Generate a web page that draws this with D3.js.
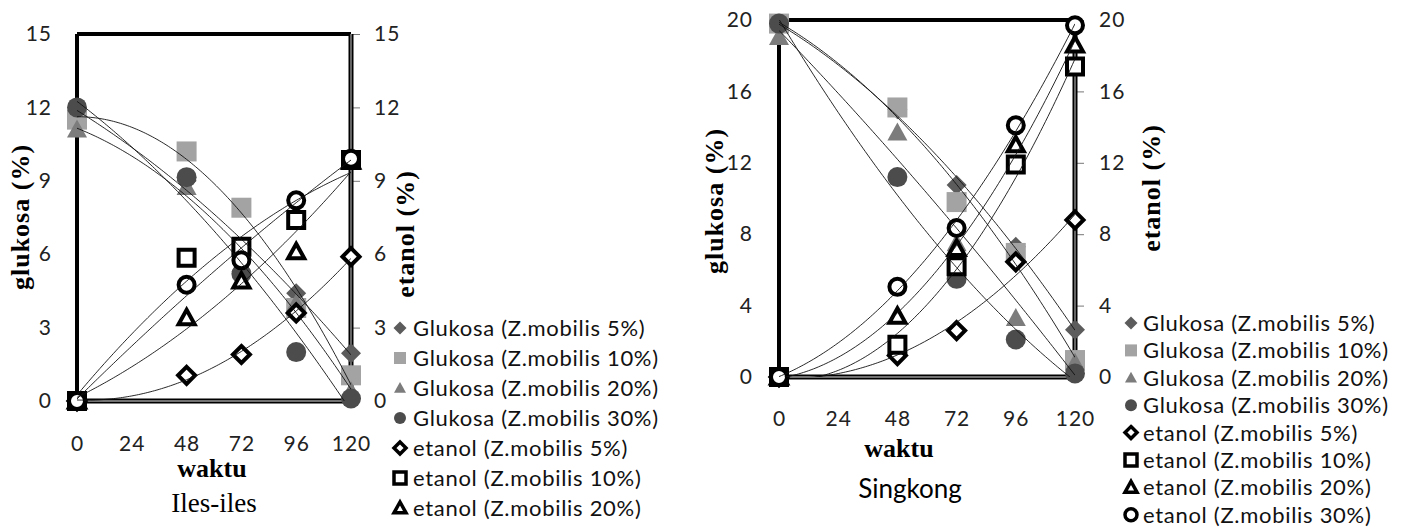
<!DOCTYPE html>
<html><head><meta charset="utf-8">
<script src="https://cdn.jsdelivr.net/npm/d3@7"></script>
<style>body{margin:0;background:#fff}svg{display:block}</style>
</head><body>
<svg id="c" width="1405" height="530"></svg>
<script>
// ---------- data ----------
const times = [0, 48, 72, 96, 120];
const xTicks = [0, 24, 48, 72, 96, 120];
const seriesNames = [
  "Glukosa (Z.mobilis 5%)", "Glukosa (Z.mobilis 10%)", "Glukosa (Z.mobilis 20%)", "Glukosa (Z.mobilis 30%)",
  "etanol (Z.mobilis 5%)", "etanol (Z.mobilis 10%)", "etanol (Z.mobilis 20%)", "etanol (Z.mobilis 30%)"
];
// Iles-iles
const ilesGlu5  = [11.8, 9.0, 6.2, 4.4, 1.95];
const ilesGlu10 = [11.5, 10.2, 7.9, 3.8, 1.05];
const ilesGlu20 = [11.1, 8.75, 5.6, 4.0, 0.4];
const ilesGlu30 = [12.0, 9.15, 5.2, 2.0, 0.1];
const ilesEt5   = [0, 1.05, 1.9, 3.6, 5.9];
const ilesEt10  = [0, 5.85, 6.3, 7.4, 9.85];
const ilesEt20  = [0, 3.4, 4.9, 6.1, 9.8];
const ilesEt30  = [0, 4.75, 5.75, 8.2, 9.9];
const ilesTicks = [0, 3, 6, 9, 12, 15];
// Singkong
const singGlu5  = [19.7, 15.0, 10.75, 7.3, 2.65];
const singGlu10 = [19.8, 15.1, 9.8, 6.95, 0.95];
const singGlu20 = [19.05, 13.7, 7.5, 3.3, 0.8];
const singGlu30 = [19.8, 11.2, 5.5, 2.1, 0.2];
const singEt5   = [0, 1.2, 2.6, 6.45, 8.8];
const singEt10  = [0, 1.8, 6.2, 11.9, 17.4];
const singEt20  = [0, 3.4, 7.2, 13.0, 18.6];
const singEt30  = [0, 5.05, 8.35, 14.1, 19.7];
const singTicks = [0, 4, 8, 12, 16, 20];

// ---------- styles ----------
const shapes = ["diamond", "square", "triangle", "circle", "diamond", "square", "triangle", "circle"];
const fills  = ["#5c5c5c", "#a3a3a3", "#7c7c7c", "#4c4c4c", "#fff", "#fff", "#fff", "#fff"];

function shapeType(kind) {
  return { draw(ctx, r) {
    if (kind === "diamond") { ctx.moveTo(0, -r); ctx.lineTo(r, 0); ctx.lineTo(0, r); ctx.lineTo(-r, 0); ctx.closePath(); }
    else if (kind === "square") { ctx.rect(-r, -r, 2 * r, 2 * r); }
    else if (kind === "triangle") { ctx.moveTo(0, -r); ctx.lineTo(r, r * 0.8); ctx.lineTo(-r, r * 0.8); ctx.closePath(); }
    else { ctx.moveTo(r, 0); ctx.arc(0, 0, r, 0, 2 * Math.PI); }
  }};
}
function sym(i, legend) {
  const open = i >= 4;
  let r;
  if (legend) r = open ? 6 : (shapes[i] === "diamond" ? 6.5 : 6);
  else r = open ? (shapes[i] === "diamond" ? 8.5 : 8) : 10;
  return d3.symbol().type(shapeType(shapes[i])).size(r)();
}

function polyFit2(xs, ys) {
  // least squares quadratic trendline
  let S = [[0,0,0],[0,0,0],[0,0,0]], B = [0,0,0];
  xs.forEach((x, k) => {
    const p = [1, x, x * x];
    for (let a = 0; a < 3; a++) { B[a] += p[a] * ys[k]; for (let b = 0; b < 3; b++) S[a][b] += p[a] * p[b]; }
  });
  const M = S.map((row, a) => [...row, B[a]]);
  for (let c = 0; c < 3; c++) {
    let piv = c; for (let r = c + 1; r < 3; r++) if (Math.abs(M[r][c]) > Math.abs(M[piv][c])) piv = r;
    [M[c], M[piv]] = [M[piv], M[c]];
    for (let r = 0; r < 3; r++) if (r !== c) { const f = M[r][c] / M[c][c]; for (let k = c; k < 4; k++) M[r][k] -= f * M[c][k]; }
  }
  const co = M.map((row, a) => row[3] / row[a]);
  return x => co[0] + co[1] * x + co[2] * x * x;
}

const svg = d3.select("#c");
const SANS = "Lato, 'Open Sans', sans-serif";
const SERIF = "'Liberation Serif', 'Times New Roman', serif";

const panels = [
  { id: "a", series: [ilesGlu5, ilesGlu10, ilesGlu20, ilesGlu30, ilesEt5, ilesEt10, ilesEt20, ilesEt30],
    ticks: ilesTicks, x0: 77, x1: 351, yTop: 34, yBot: 401, xPad: 35, leftPad: 25, rightPad: 14,
    waktu: [212, 477], caption: "Iles-iles", capFont: SERIF, capSize: 27, capPos: [214, 512],
    gTitle: [20, 217], eTitle: [405, 234], legX: 400, legTX: 413, legY0: 328, legStep: 30, legN: 7 },
  { id: "b", series: [singGlu5, singGlu10, singGlu20, singGlu30, singEt5, singEt10, singEt20, singEt30],
    ticks: singTicks, x0: 779, x1: 1075, yTop: 20, yBot: 377, xPad: 34, leftPad: 26, rightPad: 15,
    waktu: [899, 457], caption: "Singkong", capFont: SANS, capSize: 26, capPos: [910, 498],
    gTitle: [714, 201], eTitle: [1151, 188], legX: 1131, legTX: 1143, legY0: 323, legStep: 27.4, legN: 8 }
];

panels.forEach(P => {
  const x = d3.scaleLinear().domain([0, 120]).range([P.x0, P.x1]);
  const y = d3.scaleLinear().domain([0, d3.max(P.ticks)]).range([P.yBot, P.yTop]);
  const g = svg.append("g");

  g.append("clipPath").attr("id", "clip" + P.id).append("rect")
    .attr("x", P.x0).attr("y", P.yTop).attr("width", P.x1 - P.x0).attr("height", P.yBot - P.yTop);

  // axes
  const ax = g.append("g").attr("transform", `translate(0,${P.yBot})`)
    .call(d3.axisBottom(x).tickValues(xTicks).tickSize(0).tickPadding(P.xPad));
  const al = g.append("g").attr("transform", `translate(${P.x0},0)`)
    .call(d3.axisLeft(y).tickValues(P.ticks).tickSize(0).tickPadding(P.leftPad));
  const ar = g.append("g").attr("transform", `translate(${P.x1},0)`)
    .call(d3.axisRight(y).tickValues(P.ticks).tickSize(9).tickPadding(P.rightPad));
  [ax, al, ar].forEach(a => {
    a.select(".domain").remove();
    a.selectAll("text").attr("font-family", SANS).attr("font-size", 21).attr("letter-spacing", 1).attr("fill", "#222");
    a.selectAll("line").attr("stroke", "#777").attr("stroke-width", 1);
  });

  // frame
  g.append("line").attr("x1", P.x0).attr("x2", P.x1).attr("y1", P.yTop).attr("y2", P.yTop).attr("stroke", "#000").attr("stroke-width", 4);
  g.append("line").attr("x1", P.x0).attr("x2", P.x0).attr("y1", P.yTop).attr("y2", P.yBot).attr("stroke", "#000").attr("stroke-width", 4);
  [[P.x0, P.yBot, P.x1, P.yBot], [P.x1, P.yTop, P.x1, P.yBot]].forEach(([a, b, c, d]) => {
    g.append("line").attr("x1", a).attr("y1", b).attr("x2", c).attr("y2", d).attr("stroke", "#000").attr("stroke-width", 5);
    g.append("line").attr("x1", a).attr("y1", b).attr("x2", c).attr("y2", d).attr("stroke", "#9a9a9a").attr("stroke-width", 1.3);
  });

  // markers
  P.series.forEach((vals, i) => {
    const open = i >= 4;
    g.append("g").selectAll("path").data(vals).join("path")
      .attr("transform", (v, k) => `translate(${x(times[k])},${y(v)})`)
      .attr("d", sym(i, false))
      .attr("fill", fills[i])
      .attr("stroke", open ? "#000" : "none")
      .attr("stroke-width", open ? 4 : 0);
  });

  // trendlines (quadratic)
  const line = d3.line().x(d => x(d[0])).y(d => y(d[1]));
  const xs = d3.range(0, 120.01, 1);
  P.series.forEach((vals, i) => {
    const f = polyFit2(times, vals);
    g.append("path").attr("clip-path", `url(#clip${P.id})`)
      .attr("d", line(xs.map(t => [t, f(t)])))
      .attr("fill", "none").attr("stroke", "#111").attr("stroke-width", 0.9);
  });

  // titles
  g.append("text").attr("x", P.waktu[0]).attr("y", P.waktu[1]).attr("text-anchor", "middle")
    .attr("font-family", SERIF).attr("font-weight", "bold").attr("font-size", 26).text("waktu");
  g.append("text").attr("x", P.capPos[0]).attr("y", P.capPos[1]).attr("text-anchor", "middle")
    .attr("font-family", P.capFont).attr("font-size", P.capSize).text(P.caption);
  g.append("text").attr("transform", `translate(${P.gTitle[0]},${P.gTitle[1]}) rotate(-90)`)
    .attr("text-anchor", "middle").attr("dominant-baseline", "central")
    .attr("font-family", SERIF).attr("font-weight", "bold").attr("font-size", 26).attr("letter-spacing", 1).text("glukosa (%)");
  g.append("text").attr("transform", `translate(${P.eTitle[0]},${P.eTitle[1]}) rotate(-90)`)
    .attr("text-anchor", "middle").attr("dominant-baseline", "central")
    .attr("font-family", SERIF).attr("font-weight", "bold").attr("font-size", 26).attr("letter-spacing", 1).text("etanol (%)");

  // legend
  const lg = g.append("g");
  seriesNames.slice(0, P.legN).forEach((name, i) => {
    const yy = P.legY0 + i * P.legStep;
    const open = i >= 4;
    lg.append("path").attr("transform", `translate(${P.legX},${yy})`)
      .attr("d", sym(i, true)).attr("fill", fills[i])
      .attr("stroke", open ? "#000" : "none").attr("stroke-width", open ? 3.5 : 0);
    lg.append("text").attr("x", P.legTX).attr("y", yy).attr("dy", "0.36em")
      .attr("font-family", SANS).attr("font-size", 22).attr("letter-spacing", 0.7).attr("fill", "#111").text(name);
  });
});
</script>
</body></html>
